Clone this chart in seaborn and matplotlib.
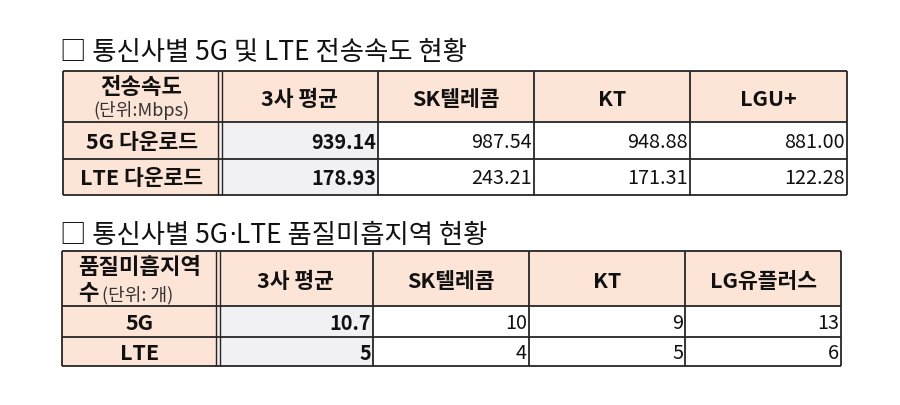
import matplotlib
matplotlib.use("Agg")
import matplotlib.pyplot as plt
from matplotlib.patches import Rectangle
import seaborn as sns

sns.set_theme(style="white")
plt.rcParams["font.family"] = ["Noto Sans CJK KR", "DejaVu Sans"]

# ==========================================================
# DATA
# ==========================================================

title_speed = "□ 통신사별 5G 및 LTE 전송속도 현황"
speed_corner = ["전송속도", "(단위:Mbps)"]
speed_cols = ["3사 평균", "SK텔레콤", "KT", "LGU+"]
speed_rows = ["5G 다운로드", "LTE 다운로드"]
speed_5g = [939.14, 987.54, 948.88, 881.00]
speed_lte = [178.93, 243.21, 171.31, 122.28]

title_area = ["□ 통신사별 5G", "·", "LTE 품질미흡지역 현황"]
area_corner = ["품질미흡지역", "수", "(단위: 개)"]
area_cols = ["3사 평균", "SK텔레콤", "KT", "LG유플러스"]
area_rows = ["5G", "LTE"]
area_5g = [10.7, 10, 9, 13]
area_lte = [5, 4, 5, 6]

# ==========================================================
# STYLE
# ==========================================================

PEACH = "#FCE4D6"
GREY = "#F1F1F3"
LINE = "#262626"
TXT = "#111111"
HEAD_FS = 15.5
ROW_FS = 15.5
NUM_FS = 14.3
TITLE_FS = 19

fig = plt.figure(figsize=(9, 4.06), dpi=100)
ax = fig.add_axes([0, 0, 1, 1])
ax.set_xlim(0, 900)
ax.set_ylim(406, 0)
ax.axis("off")


def draw_table(x_edges, y_edges, cols, rows, values, fmt):
    # fills
    for j in range(len(x_edges) - 1):
        for i in range(len(y_edges) - 1):
            if i == 0 or j == 0:
                c = PEACH
            elif j == 1:
                c = GREY
            else:
                c = "white"
            ax.add_patch(Rectangle((x_edges[j], y_edges[i]),
                                   x_edges[j + 1] - x_edges[j],
                                   y_edges[i + 1] - y_edges[i],
                                   facecolor=c, edgecolor="none", zorder=1))
    # grid lines (double line after the label column)
    for k, x in enumerate(x_edges):
        if k == 1:
            ax.vlines([x - 1.7, x + 1.7], y_edges[0], y_edges[-1],
                      color=LINE, lw=1.0, zorder=3)
        else:
            ax.vlines(x, y_edges[0], y_edges[-1], color=LINE, lw=1.3, zorder=3)
    for y in y_edges:
        ax.hlines(y, x_edges[0], x_edges[-1], color=LINE, lw=1.3, zorder=3)

    # header labels
    yh = (y_edges[0] + y_edges[1]) / 2 + 2
    for j, name in enumerate(cols):
        xc = (x_edges[j + 1] + x_edges[j + 2]) / 2
        ax.text(xc, yh, name, ha="center", va="center", fontsize=HEAD_FS,
                fontweight="bold", color=TXT, zorder=4)
    # row labels + values
    for i, name in enumerate(rows):
        yc = (y_edges[i + 1] + y_edges[i + 2]) / 2 + 1
        ax.text((x_edges[0] + x_edges[1]) / 2, yc, name, ha="center",
                va="center", fontsize=ROW_FS, fontweight="bold", color=TXT,
                zorder=4)
        for j, v in enumerate(values[i]):
            ax.text(x_edges[j + 2] - 2, yc, fmt(v), ha="right", va="center",
                    fontsize=NUM_FS, color=TXT, zorder=4,
                    fontweight="bold" if j == 0 else "normal")


# ---------------- table 1 ----------------
ax.text(60, 53, title_speed, ha="left", va="center", fontsize=TITLE_FS,
        color=TXT)
x1 = [63, 220, 378, 534, 690, 847]
y1 = [72, 123, 160, 196]
draw_table(x1, y1, speed_cols, speed_rows, [speed_5g, speed_lte],
           lambda v: f"{v:.2f}")
ax.text(141, 87, speed_corner[0], ha="center", va="center", fontsize=16,
        fontweight="bold", color=TXT, zorder=4)
ax.text(141, 111, speed_corner[1], ha="center", va="center", fontsize=13,
        color="#333333", zorder=4)

# ---------------- table 2 ----------------
t = ax.text(60, 236, title_area[0], ha="left", va="center",
            fontsize=TITLE_FS, color=TXT)
t = ax.annotate(title_area[1], xy=(1, 0.5), xycoords=t, ha="left",
                va="center", fontsize=TITLE_FS, color=TXT,
                family="DejaVu Sans")
ax.annotate(title_area[2], xy=(1, 0.5), xycoords=t, ha="left",
            va="center", fontsize=TITLE_FS, color=TXT)
x2 = [62, 218, 373, 529, 685, 841]
y2 = [252, 307, 338, 367]
draw_table(x2, y2, area_cols, area_rows, [area_5g, area_lte],
           lambda v: f"{v:g}")
ax.text(140, 268, area_corner[0], ha="center", va="center", fontsize=16,
        fontweight="bold", color=TXT, zorder=4)
ax.text(99, 294, area_corner[1], ha="right", va="center", fontsize=16,
        fontweight="bold", color=TXT, zorder=4)
ax.text(102, 295, area_corner[2], ha="left", va="center", fontsize=13,
        color="#333333", zorder=4)

fig.savefig("out.png", dpi=100)
